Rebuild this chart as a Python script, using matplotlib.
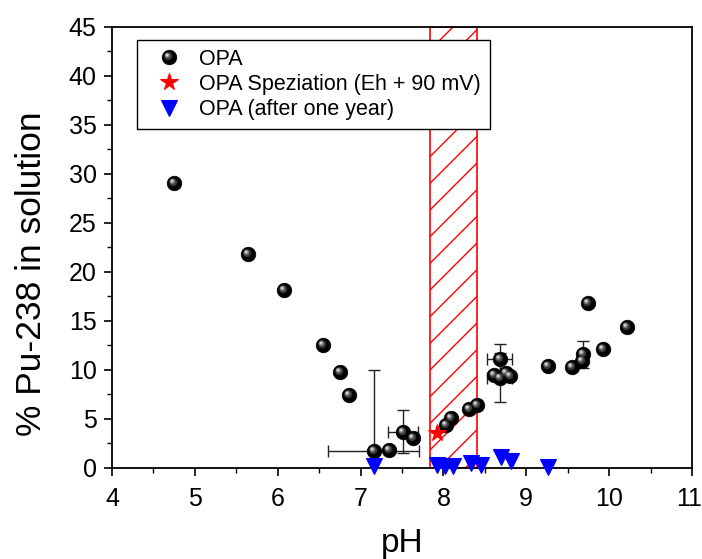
import matplotlib
matplotlib.use("Agg")
import matplotlib.pyplot as plt
from matplotlib.path import Path
from matplotlib.lines import Line2D
from matplotlib.legend_handler import HandlerTuple
import matplotlib.transforms as mtransforms
import numpy as np

plt.rcParams['font.family'] = ['Liberation Sans', 'DejaVu Sans']

# ---- data ----
opa_ph = [4.75, 5.64, 6.08, 6.55, 6.75, 6.86, 7.16, 7.34, 7.51, 7.63,
          8.03, 8.09, 8.31, 8.41, 8.68, 8.61, 8.68, 8.75, 8.80,
          9.26, 9.55, 9.67, 9.68, 9.74, 9.93, 10.21]
opa_pu = [29.1, 21.8, 18.2, 12.5, 9.8, 7.4, 1.7, 1.8, 3.7, 3.1,
          4.4, 5.1, 6.0, 6.4, 11.1, 9.5, 9.2, 9.7, 9.4,
          10.4, 10.3, 10.9, 11.6, 16.8, 12.1, 14.4]
# error bars (pH, %Pu, x error, y error)
err_ph = [7.16, 7.51, 8.68, 8.68, 9.68]
err_pu = [1.7, 3.7, 11.1, 9.2, 11.6]
err_x = [0.55, 0.18, 0.15, 0.15, 0.0]
err_y = [8.3, 2.2, 1.6, 2.5, 1.35]

spec_ph = [7.92]
spec_pu = [3.6]

year_ph = [7.16, 7.92, 8.02, 8.12, 8.33, 8.45, 8.69, 8.81, 9.26]
year_pu = [0.2, 0.3, 0.2, 0.2, 0.5, 0.3, 1.15, 0.7, 0.15]

band_ph = [7.84, 8.41]

labels = ["OPA", "OPA Speziation (Eh + 90 mV)", "OPA (after one year)"]

# ---- figure (dpi 80; k converts sizes designed for dpi 100) ----
DPI = 80
k = 100 / DPI
plt.rcParams['hatch.linewidth'] = 1.0 * k

fig = plt.figure(figsize=(702 / DPI, 559 / DPI), dpi=DPI)
ax = fig.add_axes([0.1595, 0.1628, 0.8263, 0.7889])

ax.axvspan(band_ph[0], band_ph[1], facecolor='none', edgecolor='red',
           hatch='/', linewidth=1.2 * k, zorder=1)

ax.errorbar(err_ph, err_pu, xerr=err_x, yerr=err_y, fmt='none',
            ecolor='#222222', elinewidth=1.0 * k, capsize=4 * k,
            capthick=1.0 * k, zorder=2)

# sphere-like markers: black ball + offset grey highlights
def highlight(cx, cy, r):
    c = Path.circle((cx, cy), r)
    m = max(abs(cx) + r, abs(cy) + r)
    return c, m

S = 10.5 * k  # marker diameter in points
layers = [((-0.18, 0.18, 0.55), '#3a3a3a'),
          ((-0.28, 0.28, 0.36), '#7a7a7a'),
          ((-0.33, 0.33, 0.2), '#d0d0d0')]

ax.plot(opa_ph, opa_pu, 'o', ms=S, mfc='black', mec='black', mew=0.5 * k, zorder=3)
hl_handles = []
for (cx, cy, r), col in layers:
    p, m = highlight(cx, cy, r)
    ax.plot(opa_ph, opa_pu, ls='none', marker=p, ms=S * m, mfc=col, mec='none', zorder=4)
    hl_handles.append(Line2D([], [], ls='none', marker=p, ms=S * m, mfc=col, mec='none'))

ax.plot(spec_ph, spec_pu, '*', ms=13 * k, color='red', mec='red', zorder=5)
ax.plot(year_ph, year_pu, 'v', ms=11 * k, color='blue', mec='blue', zorder=5, clip_on=False)

ax.set_xlim(4, 11)
ax.set_ylim(0, 45)
ax.set_xticks(np.arange(4, 12, 1))
ax.set_xticks(np.arange(4, 11.01, 0.5), minor=True)
ax.set_yticks(np.arange(0, 46, 5))
ax.set_yticks(np.arange(0, 45.01, 2.5), minor=True)
ax.tick_params(which='major', direction='out', length=6 * k, width=1.2 * k, labelsize=18 * k)
ax.tick_params(which='minor', direction='out', length=3.5 * k, width=1.0 * k)
ax.tick_params(axis='x', pad=8 * k)
ax.tick_params(axis='y', pad=5 * k)
for s in ax.spines.values():
    s.set_linewidth(1.3 * k)

# nudge the last x tick label so it stays inside the figure
fig.canvas.draw()
last = ax.get_xticklabels()[-1]
last.set_transform(last.get_transform() +
                   mtransforms.ScaledTranslation(-4 / 100, 0, fig.dpi_scale_trans))

ax.set_xlabel('pH', fontsize=24 * k, labelpad=12 * k)
ax.set_ylabel('% Pu-238 in solution', fontsize=25.5 * k)
ax.yaxis.set_label_coords(-0.11, 0.44)

h_opa = tuple([Line2D([], [], ls='none', marker='o', ms=S, mfc='black', mec='black', mew=0.5 * k)] + hl_handles)
h_spec = Line2D([], [], ls='none', marker='*', ms=13 * k, color='red')
h_year = Line2D([], [], ls='none', marker='v', ms=11 * k, color='blue')
leg = ax.legend([h_opa, h_spec, h_year], labels,
                handler_map={tuple: HandlerTuple(ndivide=1, pad=0)},
                loc='upper left', bbox_to_anchor=(0.043, 0.9705), borderaxespad=0,
                fontsize=15.5 * k, frameon=True, fancybox=False, framealpha=1,
                edgecolor='black', handlelength=2.2, handletextpad=0.3,
                labelspacing=0.2, borderpad=0.4)
leg.get_frame().set_linewidth(1.0 * k)

fig.savefig('out.png', dpi=DPI)
